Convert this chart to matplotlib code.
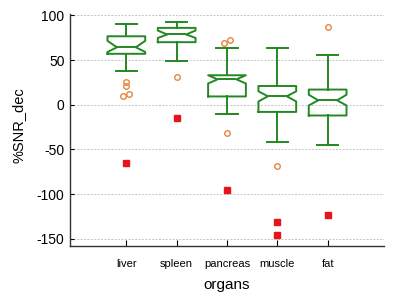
import matplotlib
matplotlib.use("Agg")
import matplotlib.pyplot as plt

plt.rcParams['font.family'] = ['Liberation Sans', 'DejaVu Sans']
plt.rcParams['axes.unicode_minus'] = False

organs = ['liver', 'spleen', 'pancreas', 'muscle', 'fat']
q1 = [57.0, 70.0, 9.3, -8.0, -12.0]
med = [64.3, 78.6, 28.4, 9.5, 5.0]
q3 = [76.6, 86.0, 33.0, 21.0, 17.0]
whislo = [37.5, 49.5, -9.8, -42.0, -44.5]
whishi = [90.5, 93.0, 64.0, 64.0, 55.6]
cilo = [59.0, 74.7, 23.8, 3.7, -0.8]
cihi = [71.5, 83.0, 33.0, 15.0, 11.2]
outliers = [[25.5, 21.0, 10.0, 12.0], [30.6], [69.5, 72.0, -31.8], [-68.8], [87.0]]
outlier_jitter = [[0.0, 0.0, -0.07, 0.05], [0.0], [-0.05, 0.05, 0.0], [0.0], [0.0]]
extremes = [[-65.5], [-14.6], [-95.0], [-130.8, -145.7], [-123.0]]

green = '#238823'
orange = '#e8853d'
red = '#e8141a'

fig = plt.figure(figsize=(4.0, 2.92), dpi=100)
ax = fig.add_axes([0.175, 0.159, 0.785, 0.793])

positions = list(range(1, len(organs) + 1))
stats = []
for i, name in enumerate(organs):
    stats.append(dict(label=name, med=med[i], q1=q1[i], q3=q3[i],
                      whislo=whislo[i], whishi=whishi[i],
                      cilo=cilo[i], cihi=cihi[i], fliers=[]))

lw = 1.4
ax.bxp(stats, positions=positions, widths=0.75, capwidths=0.42, shownotches=True,
       showfliers=False,
       boxprops=dict(color=green, linewidth=lw),
       whiskerprops=dict(color=green, linewidth=lw),
       capprops=dict(color=green, linewidth=lw),
       medianprops=dict(color=green, linewidth=lw))

for p, vals, jit in zip(positions, outliers, outlier_jitter):
    ax.plot([p + j for j in jit], vals, linestyle='none', marker='o',
            markersize=4, markerfacecolor='none', markeredgecolor=orange,
            markeredgewidth=1.0)
for p, vals in zip(positions, extremes):
    ax.plot([p] * len(vals), vals, linestyle='none', marker='s',
            markersize=4, color=red)

ax.set_xlim(1 - 1.12, 5 + 1.12)
ax.set_ylim(-157.5, 101.5)
ax.set_yticks([-150, -100, -50, 0, 50, 100])
ax.set_xticks(positions)
ax.set_xticklabels(organs, fontsize=8)
ax.tick_params(axis='y', labelsize=10, direction='in', length=3, pad=4)
ax.tick_params(axis='x', direction='in', length=4, pad=10)
ax.yaxis.grid(True, linestyle=(0, (2, 1.5)), color='#c4c4c4', linewidth=0.7)
ax.set_axisbelow(True)
for s in ['top', 'right']:
    ax.spines[s].set_visible(False)
for s in ['left', 'bottom']:
    ax.spines[s].set_color('#333333')
    ax.spines[s].set_linewidth(1.0)

ax.set_xlabel('organs', fontsize=11, labelpad=6)
ax.set_ylabel('%SNR_dec', fontsize=10.5)
ax.yaxis.set_label_coords(-0.142, 0.52)

fig.savefig('out.png', dpi=100)
